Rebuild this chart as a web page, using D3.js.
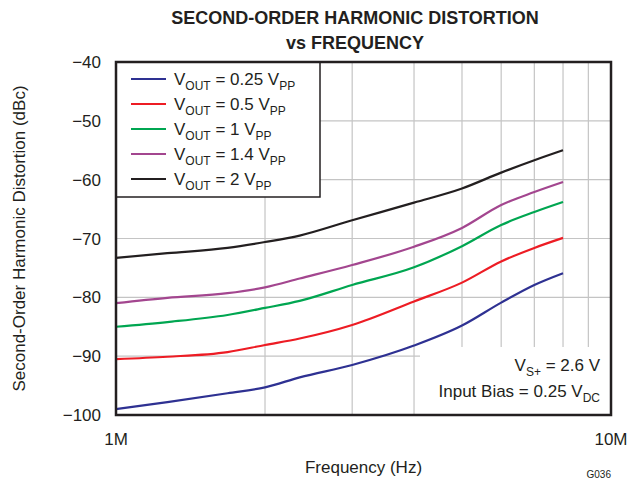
<!DOCTYPE html>
<meta charset="utf-8">
<style>
body { margin: 0; background: #fff; }
text { font-family: "Liberation Sans", Arial, sans-serif; fill: #231f20; }
</style>
<body>
<script src="https://d3js.org/d3.v7.min.js"></script>
<script>

// frequency in Hz, distortion in dBc
var freqs = [1e6, 1.27e6, 1.68e6, 2e6, 2.35e6, 3e6, 4e6, 5e6, 6e6, 7e6, 8e6];
var v025 = [-99.0, -97.8, -96.3, -95.3, -93.6, -91.5, -88.2, -84.8, -80.9, -77.9, -75.9];
var v05  = [-90.5, -90.1, -89.3, -88.1, -87.0, -84.7, -80.7, -77.5, -73.9, -71.6, -69.9];
var v1   = [-85.0, -84.2, -83.0, -81.8, -80.6, -77.9, -74.9, -71.3, -67.7, -65.5, -63.8];
var v14  = [-81.0, -80.1, -79.3, -78.3, -76.8, -74.5, -71.4, -68.2, -64.3, -62.1, -60.4];
var v2   = [-73.3, -72.5, -71.6, -70.6, -69.5, -66.9, -63.9, -61.5, -58.8, -56.7, -55.0];

var seriesNames = ["0.25", "0.5", "1", "1.4", "2"];
var seriesColors = ["#2e3192", "#ed1c24", "#00a651", "#a3468f", "#231f20"];
var seriesValues = [v025, v05, v1, v14, v2];

var yTicks = [-100, -90, -80, -70, -60, -50, -40];
var xGrid = [2e6, 3e6, 4e6, 5e6, 6e6, 7e6, 8e6, 9e6];
var xLabels = [[1e6, "1M"], [1e7, "10M"]];

var margin = {top: 62, right: 29, bottom: 66, left: 116},
    width = 640 - margin.left - margin.right,
    height = 481 - margin.top - margin.bottom;

var x = d3.scaleLog().domain([1e6, 1e7]).range([0, width]);
var y = d3.scaleLinear().domain([-100, -40]).range([height, 0]);

var root = d3.select("body").append("svg")
    .attr("width", 640)
    .attr("height", 481);

var svg = root.append("g")
    .attr("transform", "translate(" + margin.left + "," + margin.top + ")");

// grid
svg.selectAll(".vgrid")
    .data(xGrid)
  .enter().append("line")
    .attr("x1", function(d) { return x(d); })
    .attr("x2", function(d) { return x(d); })
    .attr("y1", 0)
    .attr("y2", height)
    .style("stroke", "#c4c4c4")
    .style("stroke-width", 1.2);

svg.selectAll(".hgrid")
    .data(yTicks.slice(1, -1))
  .enter().append("line")
    .attr("x1", 0)
    .attr("x2", width)
    .attr("y1", function(d) { return y(d); })
    .attr("y2", function(d) { return y(d); })
    .style("stroke", "#c4c4c4")
    .style("stroke-width", 1.2);

// white box for the conditions note
svg.append("rect")
    .attr("x", 304)
    .attr("y", 285)
    .attr("width", width - 304)
    .attr("height", height - 285)
    .style("fill", "#fff");

// curves
var line = d3.line()
    .curve(d3.curveMonotoneX)
    .x(function(d, i) { return x(freqs[i]); })
    .y(function(d) { return y(d); });

seriesValues.forEach(function(vals, k) {
  svg.append("path")
      .datum(vals)
      .attr("d", line)
      .style("fill", "none")
      .style("stroke", seriesColors[k])
      .style("stroke-width", 2.2);
});

// legend
var legendBox = svg.append("g");
legendBox.append("rect")
    .attr("x", 0)
    .attr("y", 0)
    .attr("width", 204)
    .attr("height", 135)
    .style("fill", "#fff")
    .style("stroke", "#231f20")
    .style("stroke-width", 1.5);

var legend = legendBox.selectAll(".legend")
    .data(seriesNames)
  .enter().append("g")
    .attr("class", "legend")
    .attr("transform", function(d, i) { return "translate(0," + (17 + i * 25) + ")"; });

legend.append("line")
    .attr("x1", 15)
    .attr("x2", 50)
    .style("stroke", function(d, i) { return seriesColors[i]; })
    .style("stroke-width", 2.2);

var lt = legend.append("text")
    .attr("x", 58)
    .attr("y", 6)
    .style("font-size", "17px");
lt.append("tspan").text("V");
lt.append("tspan").text("OUT").attr("dy", 5).style("font-size", "12px");
lt.append("tspan").text(function(d) { return " = " + d + " V"; }).attr("dy", -5);
lt.append("tspan").text("PP").attr("dy", 5).style("font-size", "12px");

// conditions note
var n1 = svg.append("text")
    .attr("x", width - 11)
    .attr("y", 309)
    .attr("text-anchor", "end")
    .style("font-size", "17px");
n1.append("tspan").text("V");
n1.append("tspan").text("S+").attr("dy", 5).style("font-size", "12px");
n1.append("tspan").text(" = 2.6 V").attr("dy", -5);

var n2 = svg.append("text")
    .attr("x", width - 11)
    .attr("y", 335)
    .attr("text-anchor", "end")
    .style("font-size", "17px");
n2.append("tspan").text("Input Bias = 0.25 V");
n2.append("tspan").text("DC").attr("dy", 5).style("font-size", "12px");

// frame
svg.append("rect")
    .attr("x", 0)
    .attr("y", 0)
    .attr("width", width)
    .attr("height", height)
    .style("fill", "none")
    .style("stroke", "#231f20")
    .style("stroke-width", 2.5);

// axis labels
svg.selectAll(".ylab")
    .data(yTicks)
  .enter().append("text")
    .attr("x", -15)
    .attr("y", function(d) { return y(d); })
    .attr("dy", "0.36em")
    .attr("text-anchor", "end")
    .style("font-size", "17px")
    .text(function(d) { return "\u2212" + Math.abs(d); });

svg.selectAll(".xlab")
    .data(xLabels)
  .enter().append("text")
    .attr("x", function(d) { return x(d[0]); })
    .attr("y", height + 30)
    .attr("text-anchor", "middle")
    .style("font-size", "17px")
    .text(function(d) { return d[1]; });

svg.append("text")
    .attr("x", width / 2)
    .attr("y", height + 58)
    .attr("text-anchor", "middle")
    .style("font-size", "17px")
    .text("Frequency (Hz)");

svg.append("text")
    .attr("transform", "translate(-91," + (height / 2) + ")rotate(-90)")
    .attr("text-anchor", "middle")
    .style("font-size", "17px")
    .text("Second-Order Harmonic Distortion (dBc)");

svg.append("text")
    .attr("x", width)
    .attr("y", height + 63)
    .attr("text-anchor", "end")
    .style("font-size", "10px")
    .text("G036");

// title
root.append("text")
    .attr("x", 355)
    .attr("y", 24)
    .attr("text-anchor", "middle")
    .style("font-size", "18px")
    .style("font-weight", "bold")
    .text("SECOND-ORDER HARMONIC DISTORTION");

root.append("text")
    .attr("x", 355)
    .attr("y", 49)
    .attr("text-anchor", "middle")
    .style("font-size", "18px")
    .style("font-weight", "bold")
    .text("vs FREQUENCY");

</script>
</body>
